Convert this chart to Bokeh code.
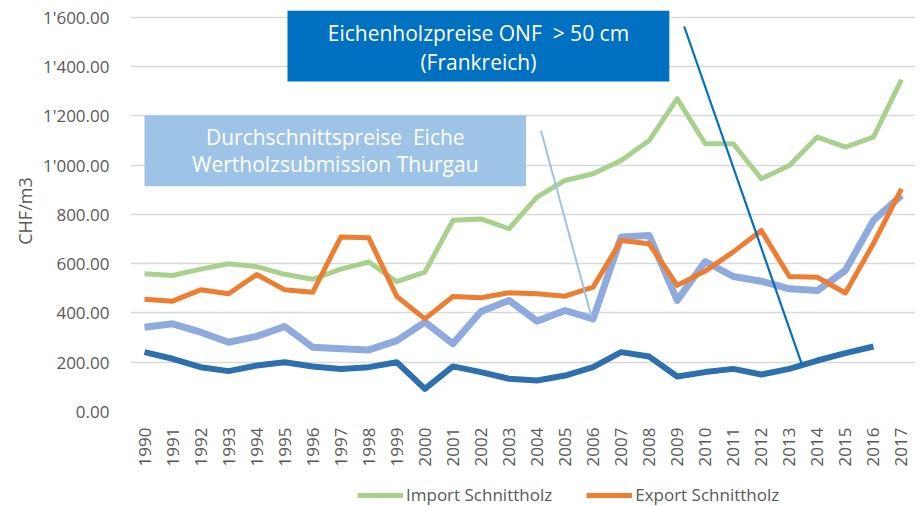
import math
from bokeh.plotting import figure
from bokeh.layouts import column
from bokeh.models import (Range1d, FixedTicker, CustomJSTickFormatter, Legend, LegendItem)
from bokeh.core.properties import value
from bokeh.embed import file_html
from bokeh.resources import INLINE

# ---- data ----
years = list(range(1990, 2018))
import_schnittholz = [559, 552, 578, 600, 588, 557, 537, 578, 607, 527, 566, 776, 782, 742, 870, 938, 965,
                      1019, 1100, 1270, 1087, 1087, 945, 999, 1114, 1073, 1114, 1347]
export_schnittholz = [456, 448, 494, 478, 556, 494, 484, 708, 705, 467, 376, 467, 462, 482, 478, 468, 505,
                      694, 681, 512, 570, 648, 735, 548, 545, 481, 682, 904]
wertholz_thurgau = [342, 356, 322, 281, 305, 345, 261, 255, 250, 288, 363, 275, 406, 451, 367, 410, 376,
                    708, 715, 451, 609, 548, 529, 498, 491, 573, 776, 877]
onf_years = list(range(1990, 2017))
onf_frankreich = [241, 214, 180, 164, 187, 200, 183, 173, 180, 200, 92, 183, 160, 133, 126, 146, 180,
                  241, 223, 142, 160, 173, 150, 173, 207, 237, 264]
y_ticks = [0, 200, 400, 600, 800, 1000, 1200, 1400, 1600]
legend_labels = ["Import Schnittholz", "Export Schnittholz"]

# annotation boxes (data coords): left, right, bottom, top
box_onf = (1995.1, 2008.72, 1340, 1628)
box_thurgau = (1990.0, 2003.61, 914, 1202)
onf_text = ["Eichenholzpreise ONF\u00a0 > 50 cm", "(Frankreich)"]
onf_text_y = [1535, 1417]
thurgau_text = ["Durchschnittspreise\u00a0 Eiche", "Wertholzsubmission Thurgau"]
thurgau_text_y = [1114, 1006]
# pointer lines
ptr_thurgau_x = [2004.14, 2005.94]
ptr_thurgau_y = [1141, 386]
ptr_onf_x = [2009.25, 2013.46]
ptr_onf_y = [1563, 187]

GREEN = "#A9D18E"
ORANGE = "#ED7D31"
LBLUE = "#8FAADC"
DBLUE = "#2E6FAE"
BOXDARK = "#0070C0"
BOXLIGHT = "#9DC3E6"
TXT = "#595959"
FONT = "Open Sans"

p = figure(width=924, height=476, output_backend="svg", toolbar_location=None,
           x_range=Range1d(1989.5, 2017.5), y_range=Range1d(0, 1628),
           min_border_left=130, min_border_right=9, min_border_top=10, min_border_bottom=65)
p.outline_line_color = None
p.background_fill_color = "white"
p.border_fill_color = "white"

# grid
p.xgrid.grid_line_color = None
p.ygrid.grid_line_color = "#D9D9D9"
p.ygrid.grid_line_width = 1.5

# axes
p.yaxis.ticker = FixedTicker(ticks=y_ticks)
p.yaxis.formatter = CustomJSTickFormatter(code="""
const s = tick.toFixed(2);
const parts = s.split('.');
parts[0] = parts[0].replace(/\\B(?=(\\d{3})+(?!\\d))/g, "'");
return parts.join('.');
""")
p.yaxis.axis_label = "CHF/m3"
p.xaxis.ticker = FixedTicker(ticks=years)
p.xaxis.major_label_orientation = math.pi / 2
for ax in (p.xaxis[0], p.yaxis[0]):
    ax.axis_line_color = None
    ax.major_tick_line_color = None
    ax.minor_tick_line_color = None
    ax.major_label_text_font = FONT
    ax.major_label_text_font_size = "17px"
    ax.major_label_text_color = TXT
p.yaxis.major_label_standoff = 15
p.yaxis.axis_label_text_font = FONT
p.yaxis.axis_label_text_font_size = "18px"
p.yaxis.axis_label_text_font_style = "normal"
p.yaxis.axis_label_text_color = TXT
p.yaxis.axis_label_standoff = 3
p.xaxis.major_label_standoff = 10

# boxes
p.quad(left=[box_onf[0]], right=[box_onf[1]], bottom=[box_onf[2]], top=[box_onf[3]],
       fill_color=BOXDARK, line_color=None)
p.quad(left=[box_thurgau[0]], right=[box_thurgau[1]], bottom=[box_thurgau[2]], top=[box_thurgau[3]],
       fill_color=BOXLIGHT, line_color=None)
p.text(x=[(box_onf[0] + box_onf[1]) / 2] * 2, y=onf_text_y, text=onf_text,
       text_font=value(FONT), text_font_size="21px", text_color="white",
       text_align="center", text_baseline="middle")
p.text(x=[(box_thurgau[0] + box_thurgau[1]) / 2] * 2, y=thurgau_text_y, text=thurgau_text,
       text_font=value(FONT), text_font_size="21px", text_color="white",
       text_align="center", text_baseline="middle")

# series
p.line(years, wertholz_thurgau, line_color=LBLUE, line_width=7, line_join="round")
p.line(onf_years, onf_frankreich, line_color=DBLUE, line_width=6, line_join="round")
p.line(years, import_schnittholz, line_color=GREEN, line_width=5, line_join="round")
p.line(years, export_schnittholz, line_color=ORANGE, line_width=5, line_join="round")

# pointer lines
p.line(ptr_thurgau_x, ptr_thurgau_y, line_color=BOXLIGHT, line_width=2)
p.line(ptr_onf_x, ptr_onf_y, line_color=BOXDARK, line_width=2.2)

# legend strip (renderers hold off-range points, only used for the legend swatch)
p2 = figure(width=924, height=30, output_backend="svg", toolbar_location=None,
            x_range=Range1d(0, 1), y_range=Range1d(0, 1),
            min_border_left=130, min_border_right=9, min_border_top=0, min_border_bottom=0)
p2.axis.visible = False
p2.grid.grid_line_color = None
p2.outline_line_color = None
p2.background_fill_color = "white"
p2.border_fill_color = "white"
lg_gr = p2.line([-5, -4], [-5, -4], line_color=GREEN, line_width=5)
lg_or = p2.line([-5, -4], [-5, -4], line_color=ORANGE, line_width=5)
legend = Legend(items=[LegendItem(label=legend_labels[0], renderers=[lg_gr]),
                       LegendItem(label=legend_labels[1], renderers=[lg_or])],
                orientation="horizontal", location=(227, 0),
                glyph_width=46, label_standoff=3, spacing=34, padding=0, margin=0,
                label_text_font=FONT, label_text_font_size="17px", label_text_color=TXT,
                border_line_color=None, background_fill_alpha=0)
p2.add_layout(legend, "center")

open("out.html", "w").write(file_html(column(p, p2, spacing=0), INLINE))
